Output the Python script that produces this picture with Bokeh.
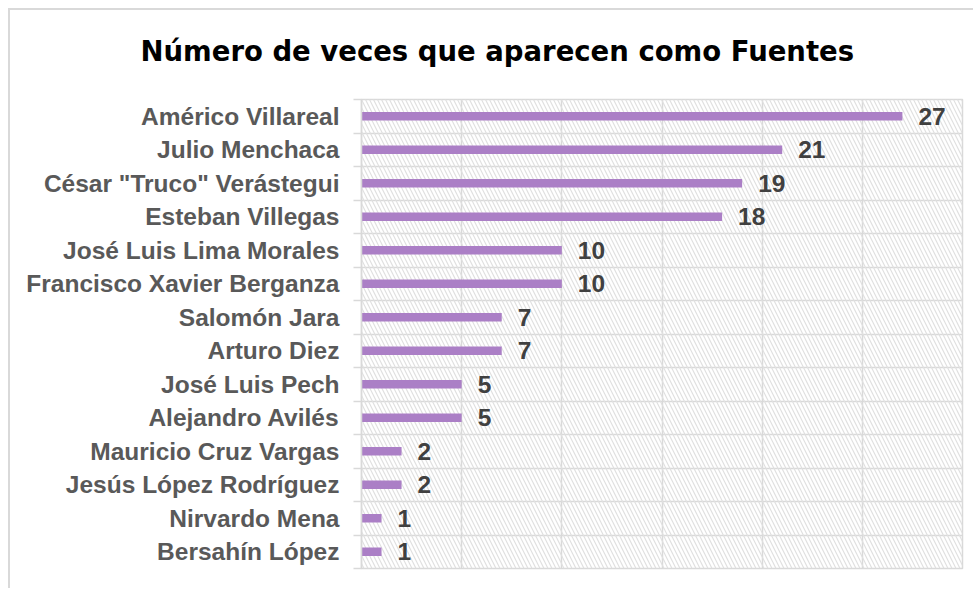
from bokeh.plotting import figure
from bokeh.models import Range1d, FixedTicker, BoxAnnotation, ColumnDataSource
from bokeh.core.properties import value
from bokeh.embed import file_html
from bokeh.resources import INLINE

title_text = "Número de veces que aparecen como Fuentes"
names = ["Américo Villareal", "Julio Menchaca", 'César "Truco" Verástegui',
         "Esteban Villegas", "José Luis Lima Morales", "Francisco Xavier Berganza",
         "Salomón Jara", "Arturo Diez", "José Luis Pech", "Alejandro Avilés",
         "Mauricio Cruz Vargas", "Jesús López Rodríguez", "Nirvardo Mena", "Bersahín López"]
values = [27, 21, 19, 18, 10, 10, 7, 7, 5, 5, 2, 2, 1, 1]
x_ticks = [0, 5, 10, 15, 20, 25, 30]

n = len(names)
centers = [n - i - 0.5 for i in range(n)]
bounds = list(range(n + 1))

src = ColumnDataSource(dict(y=centers, v=values, lab=[str(v) for v in values]))

p = figure(width=965, height=580, output_backend="svg", toolbar_location=None,
           x_range=Range1d(x_ticks[0], x_ticks[-1]), y_range=Range1d(0, n),
           min_border_left=351, min_border_right=13, min_border_top=89,
           min_border_bottom=22)
p.styles = {"margin-left": "8px", "margin-top": "8px",
            "border-left": "2px solid #d9d9d9", "border-top": "2px solid #d9d9d9"}

# a blank second line lifts the title away from the plot area
p.title.text = title_text + "\n "
p.title.align = "left"
p.title.offset = -221
p.title.text_font = "DejaVu Sans"
p.title.text_font_style = "bold"
p.title.text_font_size = "27.5px"
p.title.text_color = "#000000"
p.title.standoff = 2

p.outline_line_color = "#d9d9d9"
p.outline_line_width = 1.5

hatch = BoxAnnotation(fill_color=None, line_color=None, hatch_pattern="left_diagonal_line",
                      hatch_color="#e0e0e0", hatch_scale=8, hatch_weight=1.2, level="underlay")
p.add_layout(hatch)

p.xaxis.visible = False
p.xgrid.ticker = FixedTicker(ticks=x_ticks)
p.xgrid.grid_line_color = "#d9d9d9"
p.xgrid.grid_line_width = 1.5
p.ygrid.ticker = FixedTicker(ticks=bounds)
p.ygrid.grid_line_color = "#d9d9d9"
p.ygrid.grid_line_width = 1.5

ya = p.yaxis[0]
ya.ticker = FixedTicker(ticks=centers, minor_ticks=bounds)
ya.major_label_overrides = {c: nm for c, nm in zip(centers, names)}
ya.axis_line_color = "#d9d9d9"
ya.axis_line_width = 1.5
ya.major_tick_line_color = None
ya.major_tick_out = 0
ya.major_tick_in = 0
ya.minor_tick_line_color = "#d9d9d9"
ya.minor_tick_line_width = 1.5
ya.minor_tick_out = 8
ya.minor_tick_in = 0
ya.major_label_standoff = 14
ya.major_label_text_font = "Liberation Sans"
ya.major_label_text_font_style = "bold"
ya.major_label_text_font_size = "24.5px"
ya.major_label_text_color = "#595959"

p.hbar(y="y", left=0, right="v", height=0.25, source=src, fill_color="#AB7FC6",
       line_color=None)
p.text(x="v", y="y", text="lab", source=src, x_offset=16, text_baseline="middle",
       text_font=value("Liberation Sans"), text_font_style="bold",
       text_font_size="24.5px", text_color="#404040")

open("out.html", "w").write(file_html(p, INLINE))
